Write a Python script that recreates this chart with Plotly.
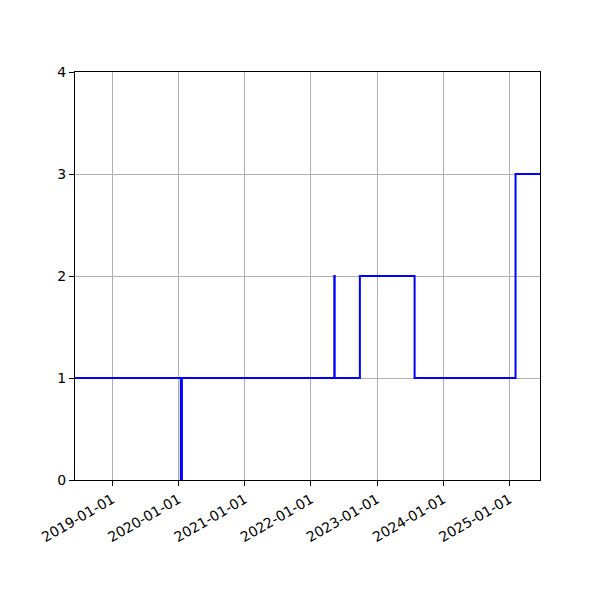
import plotly.graph_objects as go

# step series: date when the value changes, and the new value
dates = ["2018-06-09", "2020-01-14", "2020-01-20", "2022-05-10", "2022-05-12",
         "2022-09-28", "2023-07-27", "2025-02-03", "2025-06-18"]
values = [1, 0, 1, 2, 1, 2, 1, 3, 3]

tick_dates = ["2019-01-01", "2020-01-01", "2021-01-01", "2022-01-01",
              "2023-01-01", "2024-01-01", "2025-01-01"]

fig = go.Figure(go.Scatter(x=dates, y=values, mode="lines", line_shape="hv",
                           line=dict(color="blue", width=2)))

axis_common = dict(showline=True, linecolor="black", linewidth=1, mirror=True,
                   ticks="outside", ticklen=5, tickcolor="black",
                   showgrid=True, gridcolor="#b0b0b0", gridwidth=1, zeroline=False,
                   tickfont=dict(family="DejaVu Sans", size=14, color="black"))

fig.update_layout(
    width=600, height=600,
    margin=dict(l=67, r=68, t=64, b=128),
    plot_bgcolor="white", paper_bgcolor="white",
    showlegend=False,
    xaxis=dict(range=["2018-06-09", "2025-06-18"], tickvals=tick_dates,
               ticktext=tick_dates, tickangle=-30, automargin=False, **axis_common),
    yaxis=dict(range=[0, 4], tickvals=[0, 1, 2, 3, 4], automargin=False, **axis_common),
)

fig.write_html("out.html")
